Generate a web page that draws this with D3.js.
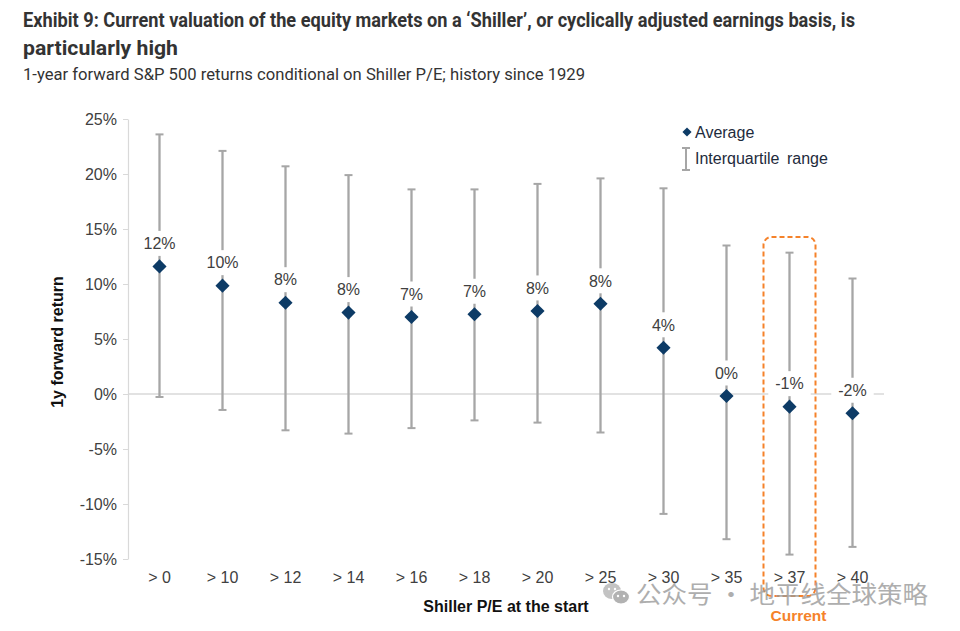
<!DOCTYPE html>
<html><head><meta charset="utf-8">
<script src="https://cdn.jsdelivr.net/npm/d3@7"></script>
<style>
html,body{margin:0;padding:0;background:#fff;}
svg{display:block;}
</style></head>
<body>
<svg id="chart" width="960" height="631"></svg>
<script>
// ---- data ----
const categories = ["> 0","> 10","> 12","> 14","> 16","> 18","> 20","> 25","> 30","> 35","> 37","> 40"];
const average    = [11.6, 9.85, 8.3, 7.4, 7.0, 7.25, 7.55, 8.2, 4.2, -0.18, -1.15, -1.75];
const quartile1  = [-0.27, -1.45, -3.3, -3.6, -3.1, -2.4, -2.6, -3.5, -10.9, -13.2, -14.6, -13.9];
const quartile3  = [23.6, 22.1, 20.7, 19.9, 18.6, 18.6, 19.1, 19.6, 18.7, 13.5, 12.85, 10.5];
const avgLabels  = ["12%","10%","8%","8%","7%","7%","8%","8%","4%","0%","-1%","-2%"];
const yTicks     = [-15, -10, -5, 0, 5, 10, 15, 20, 25];
const currentCategory = "> 37";

const title1 = "Exhibit 9: Current valuation of the equity markets on a \u2018Shiller\u2019, or cyclically adjusted earnings basis, is";
const title2 = "particularly high";
const subtitle = "1-year forward S&P 500 returns conditional on Shiller P/E; history since 1929";

const svg = d3.select("#chart");
const FONT = "'Liberation Sans', Arial, sans-serif";

// ---- scales ----
const x = d3.scaleBand().domain(categories).range([128, 884]).padding(0);
const y = d3.scaleLinear().domain([-15, 25]).range([559, 119]);
const cx = c => x(c) + x.bandwidth() / 2;

// ---- titles ----
const tfont = "'Roboto', 'Liberation Sans', sans-serif";
svg.append("text").attr("x", 23).attr("y", 27).attr("font-family", tfont).attr("font-weight", 700)
  .attr("font-size", 20.5).attr("fill", "#333").attr("textLength", 832).attr("lengthAdjust", "spacingAndGlyphs").text(title1);
svg.append("text").attr("x", 23).attr("y", 55).attr("font-family", tfont).attr("font-weight", 700)
  .attr("font-size", 20.5).attr("fill", "#333").attr("textLength", 155).attr("lengthAdjust", "spacingAndGlyphs").text(title2);
svg.append("text").attr("x", 23).attr("y", 80).attr("font-family", tfont).attr("font-weight", 400)
  .attr("font-size", 17).attr("fill", "#333").attr("textLength", 562).attr("lengthAdjust", "spacingAndGlyphs").text(subtitle);

// ---- y axis ----
const yAxis = d3.axisLeft(y).tickValues(yTicks).tickFormat(d => d + "%").tickSize(5).tickSizeOuter(0);
const ga = svg.append("g").attr("transform", "translate(128,0)").call(yAxis);
ga.select(".domain").attr("stroke", "#d9d9d9").attr("stroke-width", 1.2);
ga.selectAll(".tick line").attr("stroke", "#d9d9d9");
ga.selectAll(".tick text").attr("font-family", FONT).attr("font-size", 16).attr("fill", "#404040").attr("x", -11);

// zero line
svg.append("line").attr("x1", 128).attr("x2", 884).attr("y1", y(0)).attr("y2", y(0))
  .attr("stroke", "#d9d9d9").attr("stroke-width", 1.5);

// ---- x axis labels ----
const xAxis = d3.axisBottom(x).tickSize(0);
const gx = svg.append("g").attr("transform", "translate(0,568)").call(xAxis);
gx.select(".domain").remove();
gx.selectAll(".tick text").attr("font-family", FONT).attr("font-size", 16).attr("fill", "#404040").attr("dy", "0.95em").attr("y", 0);

// axis titles
svg.append("text").attr("x", 506).attr("y", 612).attr("text-anchor", "middle").attr("font-family", FONT)
  .attr("font-weight", 700).attr("font-size", 16).attr("fill", "#111").text("Shiller P/E at the start");
svg.append("text").attr("transform", "translate(63,342) rotate(-90)").attr("text-anchor", "middle").attr("font-family", FONT)
  .attr("font-weight", 700).attr("font-size", 16).attr("fill", "#111").text("1y forward return");

// ---- whiskers ----
const rows = categories.map((c, i) => ({c, avg: average[i], lo: quartile1[i], hi: quartile3[i], lab: avgLabels[i]}));
const W = "#a6a6a6";
const gw = svg.append("g");
rows.forEach(d => {
  gw.append("line").attr("x1", cx(d.c)).attr("x2", cx(d.c)).attr("y1", y(d.hi)).attr("y2", y(d.lo))
    .attr("stroke", W).attr("stroke-width", 2.3);
  [d.hi, d.lo].forEach(v => gw.append("line").attr("x1", cx(d.c) - 4).attr("x2", cx(d.c) + 4)
    .attr("y1", y(v)).attr("y2", y(v)).attr("stroke", W).attr("stroke-width", 2));
});

// ---- labels with white backgrounds ----
const gl = svg.append("g");
rows.forEach(d => {
  const ly = y(d.avg) - 23;
  const t = gl.append("text").attr("x", cx(d.c)).attr("y", ly).attr("dy", "0.36em").attr("text-anchor", "middle")
    .attr("font-family", FONT).attr("font-size", 16).attr("fill", "#404040").text(d.lab);
  const bb = t.node().getBBox();
  gl.insert("rect", () => t.node()).attr("x", bb.x - 7).attr("y", ly - 12.5).attr("width", bb.width + 14)
    .attr("height", 25).attr("fill", "#fff");
});

// ---- diamonds ----
const NAVY = "#0d3b66";
const diamond = d3.symbol().type(d3.symbolSquare).size(100);
svg.append("g").selectAll("path").data(rows).join("path")
  .attr("d", diamond).attr("fill", NAVY)
  .attr("transform", d => `translate(${cx(d.c)},${y(d.avg)}) rotate(45)`);

// ---- current highlight ----
const ORANGE = "#f5822a";
const bx = cx(currentCategory);
svg.append("rect").attr("x", bx - 26).attr("y", 237).attr("width", 52).attr("height", 359).attr("rx", 8)
  .attr("fill", "none").attr("stroke", ORANGE).attr("stroke-width", 2).attr("stroke-dasharray", "5,3");
svg.append("text").attr("x", bx + 9).attr("y", 615).attr("dy", "0.36em").attr("text-anchor", "middle")
  .attr("font-family", FONT).attr("font-weight", 700).attr("font-size", 15.5).attr("fill", ORANGE).text("Current");

// ---- legend ----
const lg = svg.append("g");
lg.append("path").attr("d", d3.symbol().type(d3.symbolSquare).size(42)).attr("fill", NAVY)
  .attr("transform", "translate(687,132) rotate(45)");
lg.append("text").attr("x", 695).attr("y", 132).attr("dy", "0.36em").attr("font-family", FONT).attr("font-size", 16)
  .attr("fill", "#1e2b3c").text("Average");
lg.append("line").attr("x1", 686).attr("x2", 686).attr("y1", 148).attr("y2", 170).attr("stroke", W).attr("stroke-width", 2);
[148, 170].forEach(v => lg.append("line").attr("x1", 682).attr("x2", 690).attr("y1", v).attr("y2", v).attr("stroke", W).attr("stroke-width", 2));
lg.append("text").attr("x", 695).attr("y", 158).attr("dy", "0.36em").attr("font-family", FONT).attr("font-size", 16)
  .attr("fill", "#1e2b3c").attr("word-spacing", 3).text("Interquartile range");

// ---- watermark ----
const wm = svg.append("g").attr("opacity", 0.8);
wm.append("ellipse").attr("cx", 612).attr("cy", 591).attr("rx", 9).attr("ry", 8).attr("fill", "#b5b5b5");
wm.append("ellipse").attr("cx", 621).attr("cy", 597).attr("rx", 8.5).attr("ry", 7).attr("fill", "#a0a0a0").attr("stroke", "#fff").attr("stroke-width", 1.2);
[[609,589],[615,589],[618,596],[624,596]].forEach(p => wm.append("circle").attr("cx", p[0]).attr("cy", p[1]).attr("r", 1.2).attr("fill", "#fff"));
wm.append("text").attr("x", 636).attr("y", 594).attr("dy", "0.36em")
  .attr("font-family", "'Noto Sans CJK SC', sans-serif").attr("font-size", 24).attr("fill", "#9a9a9a")
  .attr("textLength", 292).attr("lengthAdjust", "spacingAndGlyphs").text("公众号 · 地平线全球策略");
</script>
</body></html>
